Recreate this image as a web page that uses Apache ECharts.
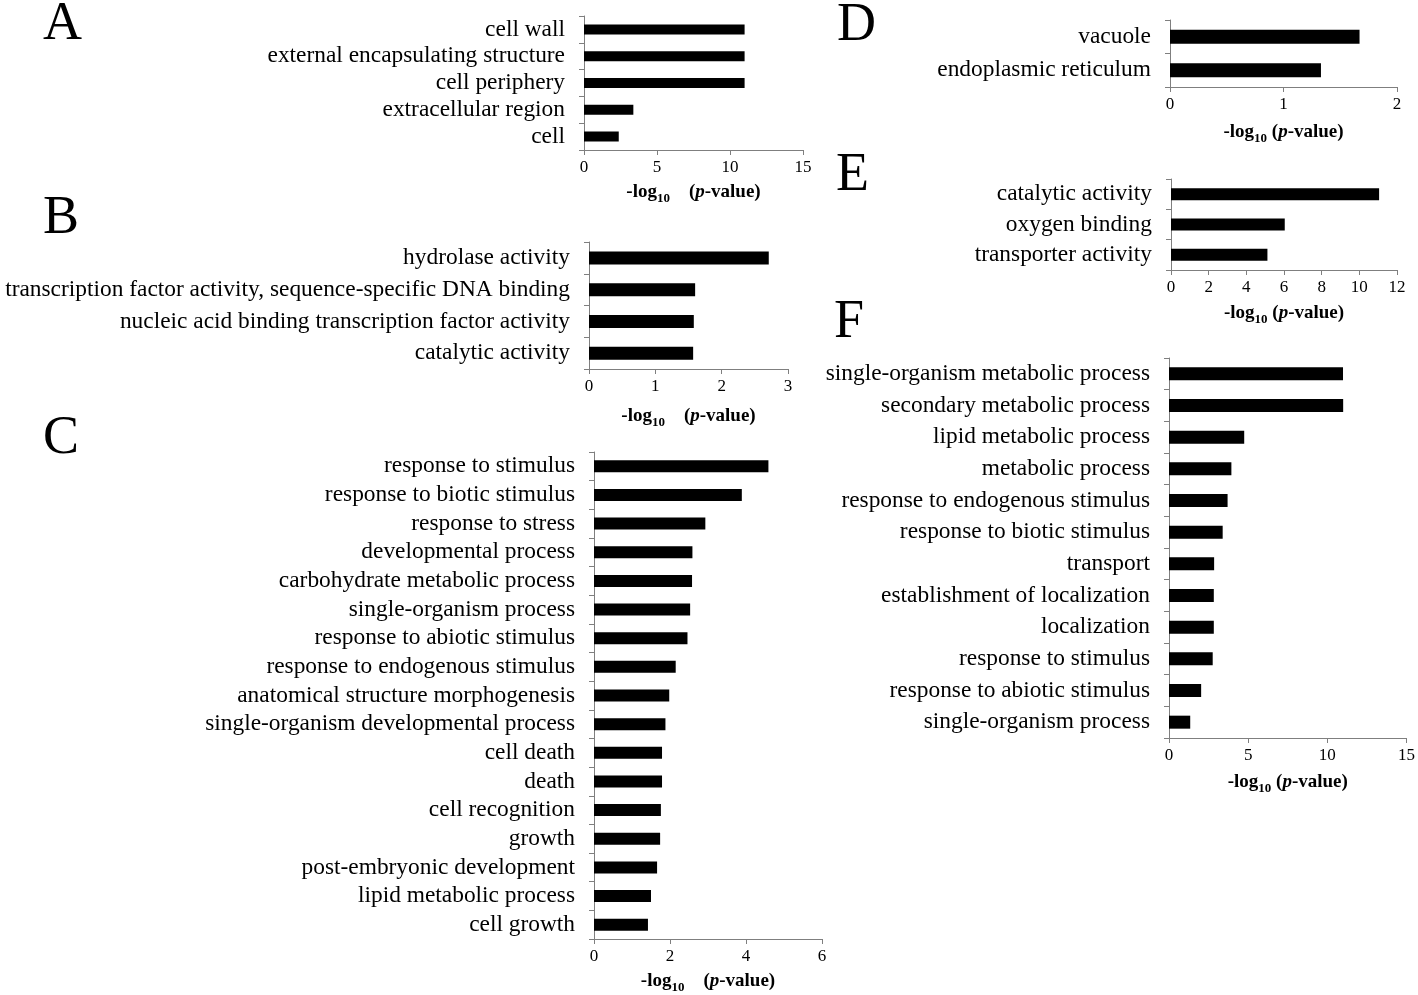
<!DOCTYPE html>
<html>
<head>
<meta charset="utf-8">
<script src="https://cdn.jsdelivr.net/npm/echarts@6/dist/echarts.min.js"></script>
<style>
  html, body { margin: 0; padding: 0; background: #fff; }
  #chart { width: 1418px; height: 995px; }
</style>
</head>
<body>
<div id="chart"></div>
<script>
// panel A - cellular component
const catA = ['cell wall', 'external encapsulating structure', 'cell periphery', 'extracellular region', 'cell'];
const valA = [11.0, 11.0, 11.0, 3.38, 2.38];
// panel B - molecular function
const catB = ['hydrolase activity', 'transcription factor activity, sequence-specific DNA binding',
  'nucleic acid binding transcription factor activity', 'catalytic activity'];
const valB = [2.71, 1.60, 1.58, 1.57];
// panel C - biological process
const catC = ['response to stimulus', 'response to biotic stimulus', 'response to stress', 'developmental process',
  'carbohydrate metabolic process', 'single-organism process', 'response to abiotic stimulus',
  'response to endogenous stimulus', 'anatomical structure morphogenesis', 'single-organism developmental process',
  'cell death', 'death', 'cell recognition', 'growth', 'post-embryonic development', 'lipid metabolic process', 'cell growth'];
const valC = [4.59, 3.89, 2.93, 2.59, 2.58, 2.53, 2.46, 2.15, 1.98, 1.88, 1.79, 1.79, 1.76, 1.74, 1.66, 1.50, 1.42];
// panel D
const catD = ['vacuole', 'endoplasmic reticulum'];
const valD = [1.67, 1.33];
// panel E
const catE = ['catalytic activity', 'oxygen binding', 'transporter activity'];
const valE = [11.05, 6.04, 5.12];
// panel F
const catF = ['single-organism metabolic process', 'secondary metabolic process', 'lipid metabolic process',
  'metabolic process', 'response to endogenous stimulus', 'response to biotic stimulus', 'transport',
  'establishment of localization', 'localization', 'response to stimulus', 'response to abiotic stimulus',
  'single-organism process'];
const valF = [10.99, 11.0, 4.75, 3.94, 3.70, 3.39, 2.85, 2.83, 2.83, 2.76, 2.03, 1.34];

const FONT = "'Liberation Serif', 'Times New Roman', serif";
const AXIS_GRAY = '#7f7f7f';

// layout of each panel: grid box, axis max/interval, bar width, title gap
const panels = [
  { letter: 'A', cats: catA, vals: valA, left: 584, top: 16, width: 219, height: 134, max: 15, interval: 5, bar: 10, gap: 33, wide: true,  lx: 43, ly: -2 },
  { letter: 'B', cats: catB, vals: valB, left: 589, top: 242, width: 199, height: 127, max: 3, interval: 1, bar: 13, gap: 38, wide: true,  lx: 43, ly: 192 },
  { letter: 'C', cats: catC, vals: valC, left: 594, top: 452, width: 228, height: 487, max: 6, interval: 2, bar: 12, gap: 33, wide: true,  lx: 43, ly: 412 },
  { letter: 'D', cats: catD, vals: valD, left: 1170, top: 20, width: 227, height: 67, max: 2, interval: 1, bar: 14, gap: 36, wide: false, lx: 837, ly: -1 },
  { letter: 'E', cats: catE, vals: valE, left: 1171, top: 179, width: 226, height: 91, max: 12, interval: 2, bar: 12, gap: 34, wide: false, lx: 836, ly: 149 },
  { letter: 'F', cats: catF, vals: valF, left: 1169, top: 358, width: 239, height: 380, max: 15, interval: 5, bar: 13, gap: 35, wide: false, lx: 834, ly: 296 }
];

const titleRich = {
  a: { fontFamily: FONT, fontWeight: 'bold', fontSize: 19, lineHeight: 20, color: '#000', verticalAlign: 'top' },
  i: { fontFamily: FONT, fontWeight: 'bold', fontStyle: 'italic', fontSize: 19, lineHeight: 20, color: '#000', verticalAlign: 'top' },
  s: { fontFamily: FONT, fontWeight: 'bold', fontSize: 13, lineHeight: 13, color: '#000', verticalAlign: 'top', padding: [9, 0, 0, 0] }
};

const chart = echarts.init(document.getElementById('chart'));

const option = {
  backgroundColor: '#fff',
  animation: false,
  grid: panels.map(p => ({ left: p.left, top: p.top, width: p.width, height: p.height })),
  xAxis: panels.map((p, i) => ({
    type: 'value',
    gridIndex: i,
    min: 0,
    max: p.max,
    interval: p.interval,
    splitLine: { show: false },
    axisLine: { show: true, lineStyle: { color: AXIS_GRAY, width: 1 } },
    axisTick: { show: true, length: 5, lineStyle: { color: AXIS_GRAY } },
    axisLabel: { color: '#000', fontFamily: FONT, fontSize: 17, margin: 9 },
    name: p.wide ? '{a|-log}{s|10}{a|    (}{i|p}{a|-value)}' : '{a|-log}{s|10}{a| (}{i|p}{a|-value)}',
    nameLocation: 'middle',
    nameGap: p.gap,
    nameTextStyle: { rich: titleRich }
  })),
  yAxis: panels.map((p, i) => ({
    type: 'category',
    gridIndex: i,
    data: p.cats,
    inverse: true,
    axisLine: { show: true, lineStyle: { color: AXIS_GRAY, width: 1 } },
    axisTick: { show: true, length: 5, lineStyle: { color: AXIS_GRAY } },
    axisLabel: { color: '#000', fontFamily: FONT, fontSize: 23.4, margin: 19, interval: 0 }
  })),
  series: panels.map((p, i) => ({
    type: 'bar',
    xAxisIndex: i,
    yAxisIndex: i,
    data: p.vals,
    barWidth: p.bar,
    itemStyle: { color: '#000' },
    silent: true
  })),
  graphic: panels.map(p => ({
    type: 'text',
    left: p.lx,
    top: p.ly,
    style: { text: p.letter, font: '54px ' + FONT, fill: '#000' }
  }))
};

chart.setOption(option);
</script>
</body>
</html>
